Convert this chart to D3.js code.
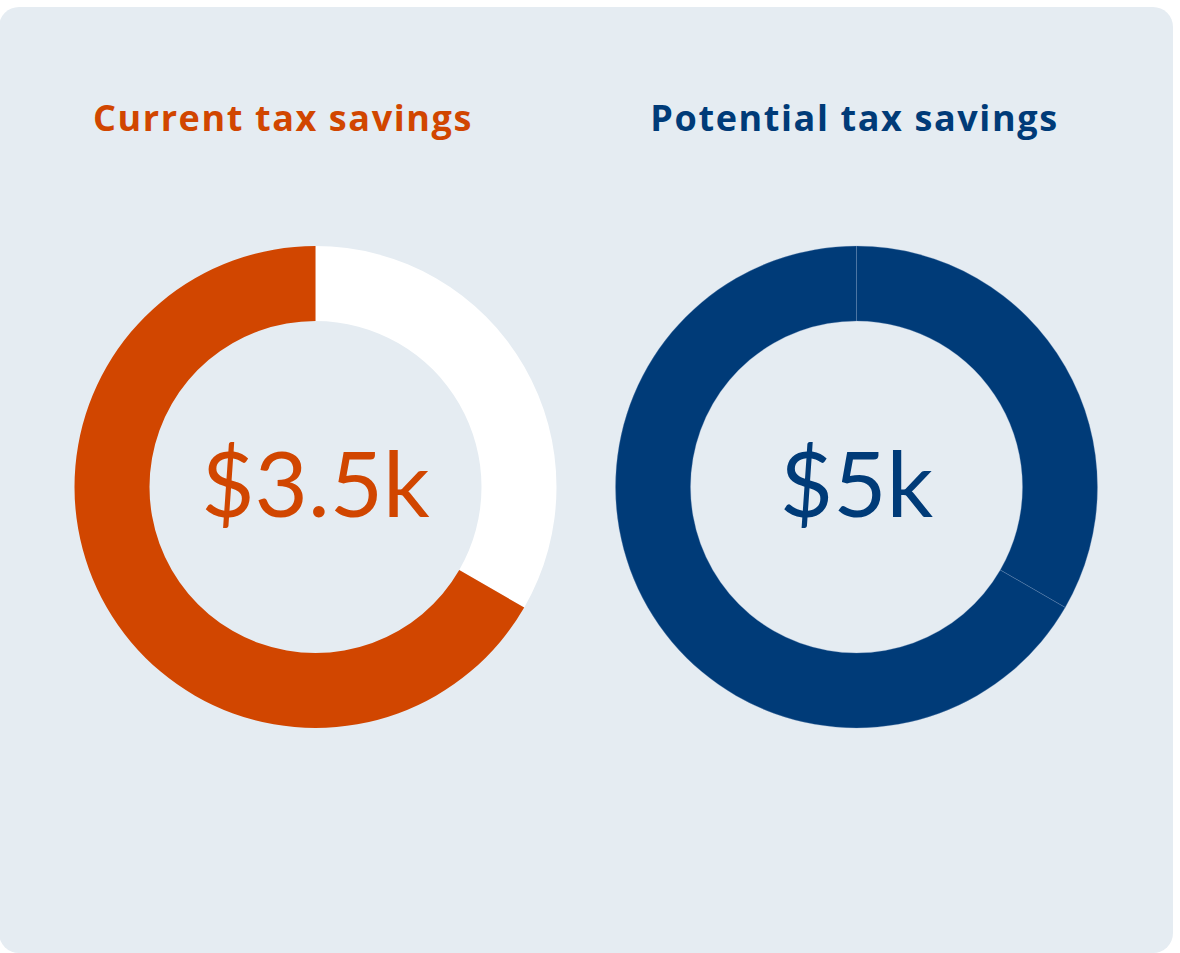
<!DOCTYPE html>
<html><head><meta charset="utf-8">
<script src="https://cdn.jsdelivr.net/npm/d3@7"></script>
<style>html,body{margin:0;padding:0;background:#fff;overflow:hidden}</style>
</head><body>
<svg id="c" width="1180" height="953"></svg>
<script>
const titles = ["Current tax savings", "Potential tax savings"];
const centerLabels = ["$3.5k", "$5k"];
const segmentNames = ["remaining", "current"];
const currentValues = [1750, 3500];
const potentialValues = [1750, 3500];
const colorsCurrent = ["#ffffff", "#d14600"];
const colorsPotential = ["#003b78", "#003b78"];
const titleColors = ["#d14600", "#003b78"];

const svg = d3.select("#c");
svg.append("rect").attr("x", -1).attr("y", 7).attr("width", 1174).attr("height", 946)
  .attr("rx", 20).attr("fill", "#e5ecf2");

const centers = d3.scalePoint().domain([0, 1]).range([315.5, 856.5]);
const titleX = [283, 854.5];
const pie = d3.pie().sort(null).value(d => d);
const arc = d3.arc().innerRadius(166).outerRadius(241);

[currentValues, potentialValues].forEach((vals, i) => {
  const cx = centers(i);
  const g = svg.append("g").attr("transform", `translate(${cx},487)`);
  const cols = i === 0 ? colorsCurrent : colorsPotential;
  g.selectAll("path").data(pie(vals)).join("path")
    .attr("d", arc)
    .attr("fill", (d, j) => cols[j])
    .attr("stroke", i === 1 ? "rgba(120,150,190,0.5)" : "none")
    .attr("stroke-width", i === 1 ? 0.6 : 0);
  g.append("text").attr("y", 30).attr("text-anchor", "middle")
    .attr("font-family", "Lato, sans-serif").attr("font-weight", 400)
    .attr("font-size", 92).attr("fill", titleColors[i]).text(centerLabels[i]);
  svg.append("text").attr("x", titleX[i]).attr("y", 131)
    .attr("text-anchor", "middle")
    .attr("font-family", "'Open Sans', sans-serif").attr("font-weight", 700)
    .attr("font-size", 36).attr("letter-spacing", 1.6)
    .attr("fill", titleColors[i]).text(titles[i]);
});
</script>
</body></html>
